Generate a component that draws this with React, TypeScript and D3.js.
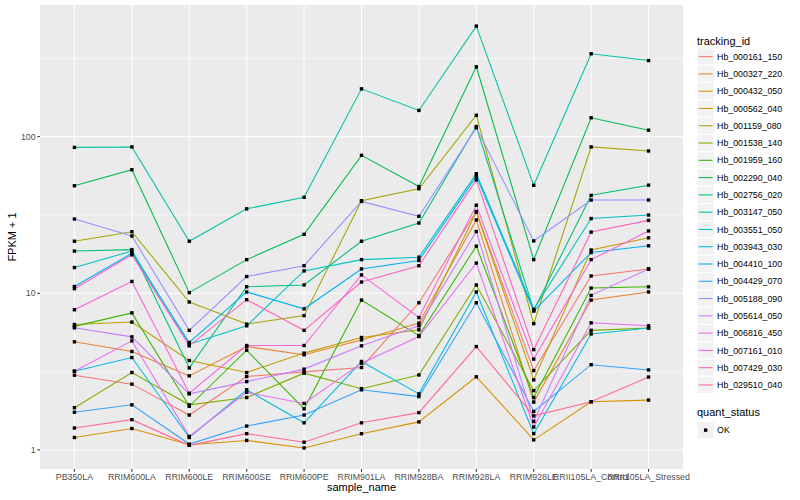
import React from "react";
import * as d3 from "d3";

const samples = ["PB350LA", "RRIM600LA", "RRIM600LE", "RRIM600SE", "RRIM600PE", "RRIM901LA", "RRIM928BA", "RRIM928LA", "RRIM928LE", "RRII105LA_Control", "RRII105LA_Stressed"];

const trackingIds = ["Hb_000161_150", "Hb_000327_220", "Hb_000432_050", "Hb_000562_040", "Hb_001159_080", "Hb_001538_140", "Hb_001959_160", "Hb_002290_040", "Hb_002756_020", "Hb_003147_050", "Hb_003551_050", "Hb_003943_030", "Hb_004410_100", "Hb_004429_070", "Hb_005188_090", "Hb_005614_050", "Hb_006816_450", "Hb_007161_010", "Hb_007429_030", "Hb_029510_040"];

// FPKM + 1 per tracking id, in sample order
const hb000161 = [3.0, 2.63, 1.67, 2.94, 3.15, 3.36, 8.7, 33.3, 3.21, 12.9, 14.3];
const hb000327 = [4.9, 4.25, 2.97, 4.57, 4.05, 5.04, 6.45, 29.4, 2.02, 9.05, 10.2];
const hb000432 = [1.2, 1.37, 1.08, 1.15, 1.03, 1.27, 1.51, 2.93, 1.16, 2.03, 2.08];
const hb000562 = [6.32, 6.55, 3.72, 3.12, 4.15, 5.22, 5.85, 33.0, 2.8, 18.9, 22.6];
const hb001159 = [21.5, 24.7, 8.8, 6.36, 7.2, 39.0, 46.5, 137, 6.4, 86, 81];
const hb001538 = [1.86, 3.12, 1.94, 2.16, 3.09, 2.46, 3.01, 11.3, 2.39, 5.8, 6.0];
const hb001959 = [6.15, 7.5, 1.9, 4.33, 1.83, 9.05, 5.37, 20.0, 2.16, 10.8, 11.0];
const hb002290 = [48.6, 61.5, 10.1, 16.4, 23.8, 76, 48, 279, 16.4, 132, 110];
const hb002756 = [18.6, 19.0, 3.34, 11.0, 11.3, 21.5, 28.1, 116, 7.8, 42.2, 49];
const hb003147 = [85.4, 86, 21.5, 34.6, 41, 202, 147, 508, 48.9, 338, 306];
const hb003551 = [14.6, 18.6, 4.73, 6.2, 13.9, 16.4, 17.0, 58, 7.9, 30, 31.6];
const hb003943 = [3.18, 3.89, 1.2, 2.42, 1.49, 3.67, 2.28, 10.2, 1.27, 5.5, 6.0];
const hb004410 = [11.05, 18.0, 4.85, 10.2, 7.96, 14.3, 16.2, 55.8, 7.7, 18.2, 20.1];
const hb004429 = [1.74, 1.94, 1.09, 1.42, 1.67, 2.42, 2.19, 8.7, 1.76, 3.5, 3.24];
const hb005188 = [29.8, 23.2, 5.8, 12.8, 15, 38.6, 31, 114, 21.6, 39.4, 39.4];
const hb005614 = [6.02, 5.27, 2.28, 2.73, 3.28, 4.62, 6.2, 24.8, 1.52, 9.7, 14.3];
const hb006816 = [3.18, 4.97, 1.22, 2.33, 1.98, 3.58, 5.3, 15.6, 1.4, 6.48, 6.2];
const hb007161 = [7.85, 11.9, 2.3, 4.64, 4.64, 13.1, 7.0, 36.5, 3.8, 16.4, 25];
const hb007429 = [10.7, 17.6, 4.62, 9.1, 5.8, 11.8, 15.0, 53, 4.37, 24.6, 29.2];
const hb029510 = [1.38, 1.56, 1.07, 1.27, 1.12, 1.49, 1.73, 4.57, 1.65, 2.03, 2.92];

const seriesValues = [hb000161, hb000327, hb000432, hb000562, hb001159, hb001538, hb001959, hb002290, hb002756, hb003147, hb003551, hb003943, hb004410, hb004429, hb005188, hb005614, hb006816, hb007161, hb007429, hb029510];

const yTicks = [1, 10, 100];
const yTickLabels = ["1", "10", "100"];
const yMinor = [Math.pow(10, 0.5), Math.pow(10, 1.5), Math.pow(10, 2.5)];

// R grDevices::hcl (polar LUV) -> hex
function hclR(h: number, c: number, l: number): string {
  const WX = 95.047, WY = 100.0, WZ = 108.883;
  const hr = (h * Math.PI) / 180;
  const U = c * Math.cos(hr);
  const V = c * Math.sin(hr);
  const Y = WY * (l > 7.999592 ? Math.pow((l + 16) / 116, 3) : l / 903.3);
  const t = WX + WY + WZ;
  const x = WX / t, y = WY / t;
  const uN = (2 * x) / (6 * y - x + 1.5);
  const vN = (4.5 * y) / (6 * y - x + 1.5);
  const u = U / (13 * l) + uN;
  const v = V / (13 * l) + vN;
  const X = (9.0 * Y * u) / (4 * v);
  const Z = -X / 3 - 5 * Y + (3 * Y) / v;
  const g = (q: number) => (q > 0.00304 ? 1.055 * Math.pow(q, 1 / 2.4) - 0.055 : 12.92 * q);
  const R = g((3.240479 * X - 1.53715 * Y - 0.498535 * Z) / WY);
  const G = g((-0.969256 * X + 1.875992 * Y + 0.041556 * Z) / WY);
  const B = g((0.055648 * X - 0.204043 * Y + 1.057311 * Z) / WY);
  const cl = (q: number) => Math.max(0, Math.min(255, Math.round(255 * q)));
  return d3.rgb(cl(R), cl(G), cl(B)).formatHex();
}

const W = 800, H = 500;
const panel = { left: 40, right: 683, top: 5, bottom: 469 };
const FONT = "'Liberation Sans', Arial, Helvetica, sans-serif";

export default function App() {
  const n = trackingIds.length;
  const hues = d3.range(n).map((i) => 15 + (360 / n) * i);
  const colors = hues.map((h) => hclR(h, 100, 65));

  const x = d3.scalePoint<string>().domain(samples).range([panel.left, panel.right]).padding(0.6);

  const all = seriesValues.flat();
  const lmin = Math.log10(d3.min(all) as number);
  const lmax = Math.log10(d3.max(all) as number);
  const ex = (lmax - lmin) * 0.05;
  const y = d3.scaleLog().domain([Math.pow(10, lmin - ex), Math.pow(10, lmax + ex)]).range([panel.bottom, panel.top]);

  const line = d3
    .line<number>()
    .x((_, i) => x(samples[i]) as number)
    .y((d) => y(d));

  const legendX = 697;
  const keySize = 17.28;
  const legendTop = 48;
  const ps = 3.4;

  return (
    <svg width={W} height={H} style={{ display: "block", position: "absolute", left: 0, top: 0 }} fontFamily={FONT}>
      <rect x={0} y={0} width={W} height={H} fill="#FFFFFF" />
      <rect x={panel.left} y={panel.top} width={panel.right - panel.left} height={panel.bottom - panel.top} fill="#EBEBEB" />
      {yMinor.map((v, i) => (
        <line key={"ym" + i} x1={panel.left} x2={panel.right} y1={y(v)} y2={y(v)} stroke="#FFFFFF" strokeWidth={0.53} />
      ))}
      {yTicks.map((v, i) => (
        <line key={"yM" + i} x1={panel.left} x2={panel.right} y1={y(v)} y2={y(v)} stroke="#FFFFFF" strokeWidth={1.07} />
      ))}
      {samples.map((s) => (
        <line key={"xg" + s} x1={x(s)} x2={x(s)} y1={panel.top} y2={panel.bottom} stroke="#FFFFFF" strokeWidth={1.07} />
      ))}
      <g>
        {seriesValues.map((vals, i) => (
          <path key={"l" + i} d={line(vals) as string} fill="none" stroke={colors[i]} strokeWidth={1.07} />
        ))}
      </g>
      <g>
        {seriesValues.map((vals, i) =>
          vals.map((v, j) => (
            <rect key={"p" + i + "_" + j} x={(x(samples[j]) as number) - ps / 2} y={y(v) - ps / 2} width={ps} height={ps} fill="#000000" />
          ))
        )}
      </g>
      {/* y axis */}
      {yTicks.map((v, i) => (
        <g key={"yt" + i}>
          <line x1={panel.left - 2.74} x2={panel.left} y1={y(v)} y2={y(v)} stroke="#333333" strokeWidth={1.07} />
          <text x={panel.left - 4.4} y={y(v) + 3.1} textAnchor="end" fontSize={8.8} fill="#4D4D4D">
            {yTickLabels[i]}
          </text>
        </g>
      ))}
      {/* x axis */}
      {samples.map((s) => (
        <g key={"xt" + s}>
          <line x1={x(s)} x2={x(s)} y1={panel.bottom} y2={panel.bottom + 2.74} stroke="#333333" strokeWidth={1.07} />
          <text x={x(s)} y={panel.bottom + 10.6} textAnchor="middle" fontSize={8.8} fill="#4D4D4D">
            {s}
          </text>
        </g>
      ))}
      <text x={(panel.left + panel.right) / 2} y={491} textAnchor="middle" fontSize={11} fill="#000000">
        sample_name
      </text>
      <text transform={`translate(15.5, ${(panel.top + panel.bottom) / 2}) rotate(-90)`} textAnchor="middle" fontSize={11} fill="#000000">
        FPKM + 1
      </text>
      {/* legend: tracking_id */}
      <text x={legendX} y={44.5} fontSize={11} fill="#000000">
        tracking_id
      </text>
      {trackingIds.map((id, i) => {
        const ky = legendTop + i * keySize;
        return (
          <g key={"lg" + id}>
            <rect x={legendX} y={ky} width={keySize} height={keySize} fill="#F2F2F2" stroke="#FFFFFF" strokeWidth={1.07} />
            <line x1={legendX + 1.7} x2={legendX + keySize - 1.7} y1={ky + keySize / 2} y2={ky + keySize / 2} stroke={colors[i]} strokeWidth={1.07} />
            <text x={legendX + keySize + 2.8} y={ky + keySize / 2 + 3.1} fontSize={8.8} fill="#000000">
              {id}
            </text>
          </g>
        );
      })}
      {/* legend: quant_status */}
      <text x={legendX} y={416} fontSize={11} fill="#000000">
        quant_status
      </text>
      <g>
        <rect x={legendX} y={421.5} width={keySize} height={keySize} fill="#F2F2F2" stroke="#FFFFFF" strokeWidth={1.07} />
        <rect x={legendX + keySize / 2 - ps / 2} y={421.5 + keySize / 2 - ps / 2} width={ps} height={ps} fill="#000000" />
        <text x={legendX + keySize + 2.8} y={421.5 + keySize / 2 + 3.1} fontSize={8.8} fill="#000000">
          OK
        </text>
      </g>
    </svg>
  );
}
